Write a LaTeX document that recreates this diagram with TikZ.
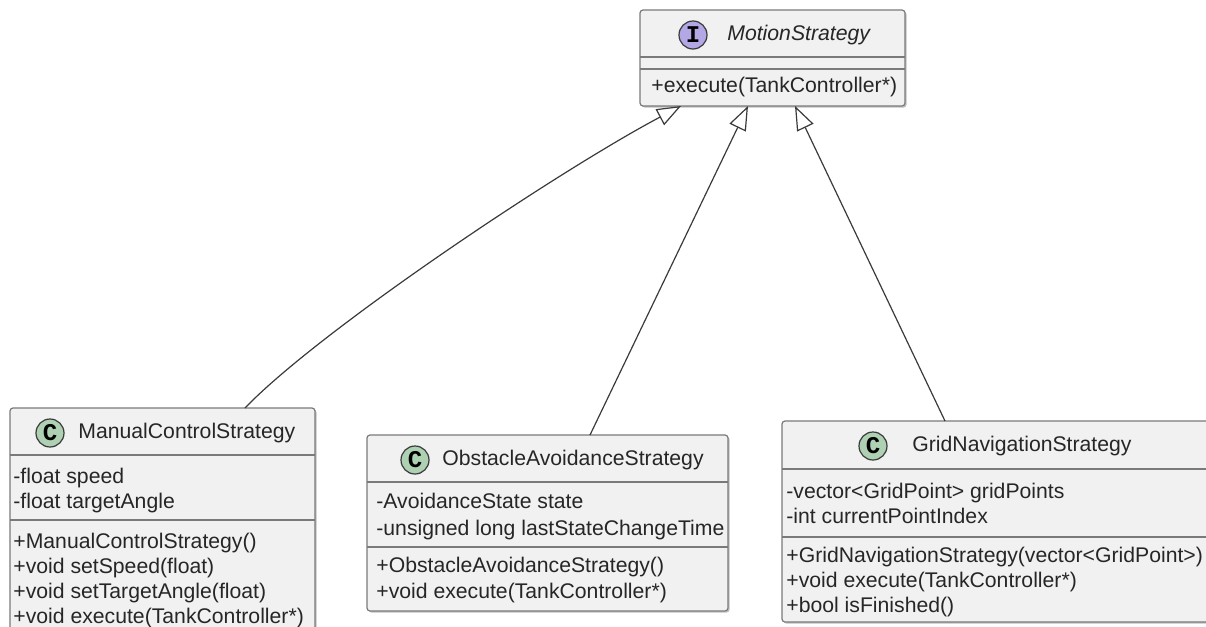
\documentclass[tikz,border=0pt]{standalone}
\usepackage{fontspec}
\setmainfont{Liberation Sans}
\newfontfamily\spotfont{Liberation Mono}
\usetikzlibrary{arrows.meta,fit,shadows}
\definecolor{boxfill}{HTML}{F1F1F1}
\definecolor{boxline}{HTML}{7A7A7A}
\definecolor{txt}{HTML}{262626}
\definecolor{clsspot}{HTML}{ADD1B2}
\definecolor{ifcspot}{HTML}{B4A7E5}
\definecolor{edgecol}{HTML}{3A3A3A}

\begin{document}
\begin{tikzpicture}[x=0.5pt,y=-0.5pt,
  classbox/.style={draw=boxline, fill=boxfill, rounded corners=1.5pt, inner sep=0pt,
    line width=0.6pt, drop shadow={shadow xshift=0.8pt, shadow yshift=-0.8pt, opacity=0.25, fill=black}},
  sepline/.style={draw=boxline, line width=0.6pt},
  member/.style={anchor=mid west, inner sep=0pt, text=txt, font=\fontsize{10.6}{12.5}\selectfont},
  spot/.style={circle, draw=edgecol, line width=0.6pt, minimum size=14pt, inner sep=0pt,
    text=black, font=\spotfont\fontsize{12}{12}\selectfont\bfseries},
  realize/.style={draw=edgecol, line width=0.6pt,
    -{Triangle[length=12pt,width=9pt,fill=white,line width=0.6pt]}}
]
\useasboundingbox (0,0) rectangle (1206,627);
\clip (0,0) rectangle (1206,627);

% ---------- interface MotionStrategy ----------
\node[classbox, fit={(640,10) (905,106)}] (ms) {};
\draw[sepline] (640,57) -- (905,57);
\draw[sepline] (640,69) -- (905,69);
\node[spot, fill=ifcspot] (ms-spot) at (693,35) {I};
\node[member, font=\fontsize{10.6}{12.5}\selectfont\itshape] (ms-name) at (727,35) {MotionStrategy};
\node[member] (ms-m1) at (651,87) {+execute(TankController*)};

% ---------- class ManualControlStrategy ----------
\node[classbox, fit={(10,408) (315,680)}] (mc) {};
\draw[sepline] (10,455) -- (315,455);
\draw[sepline] (10,520) -- (315,520);
\node[spot, fill=clsspot] (mc-spot) at (50,433) {C};
\node[member] (mc-name) at (78,433) {ManualControlStrategy};
\node[member] (mc-f1) at (13,478) {-float speed};
\node[member] (mc-f2) at (13,503) {-float targetAngle};
\node[member] (mc-m1) at (13,543) {+ManualControlStrategy()};
\node[member] (mc-m2) at (13,568) {+void setSpeed(float)};
\node[member] (mc-m3) at (13,593) {+void setTargetAngle(float)};
\node[member] (mc-m4) at (13,618) {+void execute(TankController*)};

% ---------- class ObstacleAvoidanceStrategy ----------
\node[classbox, fit={(367,435) (728,611)}] (oa) {};
\draw[sepline] (367,482) -- (728,482);
\draw[sepline] (367,547) -- (728,547);
\node[spot, fill=clsspot] (oa-spot) at (415,460) {C};
\node[member] (oa-name) at (442,460) {ObstacleAvoidanceStrategy};
\node[member] (oa-f1) at (376,503) {-AvoidanceState state};
\node[member] (oa-f2) at (376,530) {-unsigned long lastStateChangeTime};
\node[member] (oa-m1) at (376,567) {+ObstacleAvoidanceStrategy()};
\node[member] (oa-m2) at (376,593) {+void execute(TankController*)};

% ---------- class GridNavigationStrategy ----------
\node[classbox, fit={(782,421) (1230,622)}] (gn) {};
\draw[sepline] (782,469) -- (1230,469);
\draw[sepline] (782,537) -- (1230,537);
\node[spot, fill=clsspot] (gn-spot) at (873,446) {C};
\node[member] (gn-name) at (912,446) {GridNavigationStrategy};
\node[member] (gn-f1) at (786,493) {-vector<GridPoint> gridPoints};
\node[member] (gn-f2) at (786,518) {-int currentPointIndex};
\node[member] (gn-m1) at (786,557) {+GridNavigationStrategy(vector<GridPoint>)};
\node[member] (gn-m2) at (786,582) {+void execute(TankController*)};
\node[member] (gn-m3) at (786,607) {+bool isFinished()};

% ---------- realization connectors ----------
\coordinate (ms-a) at (681,106);
\coordinate (ms-b) at (748,106);
\coordinate (ms-c) at (795,106);
\coordinate (mc-top) at (245,408);
\coordinate (oa-top) at (590,435);
\coordinate (gn-top) at (945,421);

\draw[realize] (mc-top) .. controls (320,330) and (560,170) .. (ms-a);
\draw[realize] (oa-top) -- (ms-b);
\draw[realize] (gn-top) -- (ms-c);
\end{tikzpicture}
\end{document}
